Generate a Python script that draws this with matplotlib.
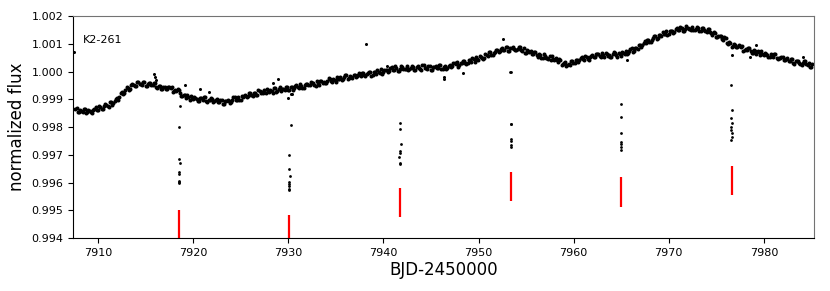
import numpy as np
import matplotlib
matplotlib.use("Agg")
import matplotlib.pyplot as plt

# K2-261 light curve, flux in ppm relative to 1
# two interleaved sets of samples, 0.25 d apart each
t0 = 7907.6
cadence = 0.25
flux_ppm = [
    -1340, -1470, -1390, -1445, -1340, -1470, -1405, -1500, -1340, -1370,
    -1250, -1340, -1245, -1190, -1275, -1105, -1150, -1000, -1030, -780,
    -820, -680, -580, -630, -450, -520, -365, -455, -500, -390,
    -510, -430, -495, -400, -550, -520, -645, -540, -620, -550,
    -605, -750, -665, -620, -780, -900, -860, -860, -1010, -950,
    -905, -1000, -1060, -970, -915, -1050, -1025, -970, -1095, -1030,
    -1095, -1020, -1170, -1075, -1035, -1125, -1040, -930, -1020, -1040,
    -895, -890, -930, -785, -850, -770, -860, -680, -760, -775,
    -780, -705, -660, -760, -605, -690, -550, -640, -680, -560,
    -670, -570, -605, -480, -595, -515, -600, -455, -500, -395,
    -410, -525, -405, -325, -405, -420, -325, -280, -390, -295,
    -215, -275, -305, -190, -115, -230, -185, -110, -210, -120,
    -155, -50, -175, -60, -15, -110, -35, 60, -40, -75,
    60, 60, 15, 150, 70, 140, 35, 200, 105, 80,
    65, 130, 160, 50, 190, 90, 225, 125, 75, 190,
    70, 160, 115, 230, 105, 170, 75, 215, 175, 290,
    285, 180, 305, 390, 315, 310, 415, 470, 360, 465,
    550, 500, 480, 610, 700, 605, 670, 765, 690, 805,
    780, 885, 750, 850, 875, 760, 815, 885, 750, 680,
    775, 720, 625, 710, 585, 620, 485, 620, 495, 450,
    415, 460, 470, 335, 430, 260, 345, 240, 230, 390,
    300, 420, 400, 535, 425, 505, 425, 575, 535, 645,
    630, 510, 610, 670, 570, 540, 620, 655, 535, 625,
    700, 640, 620, 750, 840, 750, 830, 940, 880, 1010,
    1010, 1145, 1050, 1200, 1275, 1205, 1305, 1420, 1335, 1315,
    1460, 1465, 1425, 1565, 1490, 1565, 1465, 1630, 1535, 1508,
    1488, 1545, 1570, 1450, 1570, 1445, 1545, 1410, 1325, 1395,
    1230, 1275, 1175, 1230, 1045, 1050, 900, 985, 880, 940,
    885, 735, 815, 855, 730, 680, 735, 745, 590, 645,
    685, 580, 510, 590, 630, 480, 490, 530, 400, 460,
    390, 455, 290, 370, 380, 255, 300, 365, 230, 165, 275,
]
flux_ppm_b = [
    -1315, -1445, -1422, -1358, -1510, -1388, -1472, -1385, -1295, -1385,
    -1280, -1342, -1182, -1228, -1090, -1208, -1075, -955, -925, -740,
    -760, -575, -660, -500, -495, -528, -360, -462, -390, -530,
    -435, -398, -502, -410, -585, -522, -618, -550, -620, -562,
    -572, -708, -692, -660, -885, -830, -955, -910, -870, -1008,
    -952, -1065, -945, -1022, -918, -1082, -1018, -988, -1072, -998,
    -1112, -1015, -1172, -1060, -1075, -1112, -935, -1015, -915, -1028,
    -902, -830, -898, -762, -890, -780, -830, -720, -752, -658,
    -632, -738, -695, -612, -748, -615, -695, -615, -545, -655,
    -575, -662, -518, -572, -445, -588, -502, -448, -502, -398,
    -482, -355, -485, -355, -368, -412, -248, -340, -252, -375,
    -255, -185, -258, -132, -268, -162, -218, -115, -155, -62,
    -38, -142, -98, -12, -148, -12, -88, 0, 78, -28,
    60, -22, 122, 65, 185, 32, 108, 152, 88, 182,
    88, 200, 50, 160, 130, 72, 225, 115, 188, 50,
    150, 202, 118, 232, 88, 182, 120, 225, 198, 302,
    338, 242, 298, 392, 268, 412, 348, 440, 522, 428,
    525, 455, 615, 575, 718, 592, 698, 772, 738, 858,
    778, 898, 750, 858, 822, 758, 900, 778, 830, 668,
    738, 752, 628, 702, 522, 588, 492, 558, 488, 552,
    548, 410, 418, 452, 245, 308, 192, 280, 385, 305,
    405, 335, 492, 445, 575, 435, 525, 585, 535, 642,
    555, 670, 520, 630, 600, 540, 692, 590, 670, 542,
    660, 735, 675, 815, 700, 835, 815, 955, 955, 1085,
    1142, 1068, 1145, 1262, 1155, 1315, 1262, 1368, 1460, 1368,
    1462, 1385, 1535, 1482, 1608, 1460, 1538, 1582, 1516, 1608,
    1506, 1612, 1455, 1550, 1498, 1410, 1528, 1382, 1415, 1232,
    1288, 1290, 1148, 1202, 998, 1035, 918, 962, 875, 928,
    915, 775, 785, 832, 660, 758, 645, 692, 728, 585,
    632, 510, 620, 530, 620, 440, 490, 510, 420, 490,
    368, 452, 280, 370, 322, 248, 382, 258, 312, 160,
]

# scattered points off the main band
extra_t = [7907.46, 7915.87, 7915.95, 7916.05, 7919.13, 7920.7, 7921.6,
           7928.4, 7928.9, 7930.0, 7930.3, 7930.4, 7938.2, 7940.4,
           7946.36, 7946.4, 7948.4, 7952.6, 7965.6, 7976.7, 7978.5,
           7979.2, 7984.1]
extra_ppm = [700, -83, -190, -300, -480, -625, -733,
             -400, -270, -950, -800, -820, 990, 205,
             -190, -265, -50, 1180, 420, 600, 530,
             964, 530]

# in-transit points
transit_t = [7918.48, 7918.52, 7918.55, 7918.47, 7918.51, 7918.49, 7918.53, 7918.50, 7918.58,
             7930.22, 7930.05, 7930.07, 7930.12, 7930.08, 7930.10, 7930.06, 7930.09, 7930.11,
             7941.72, 7941.78, 7941.80, 7941.70, 7941.74, 7941.68, 7941.71, 7941.73,
             7953.35, 7953.42, 7953.36, 7953.40, 7953.38, 7953.41, 7953.37, 7953.39,
             7965.03, 7964.93, 7965.00, 7964.97, 7964.99, 7965.01, 7964.98,
             7976.52, 7976.65, 7976.55, 7976.60, 7976.58, 7976.59, 7976.61, 7976.60, 7976.59]
transit_ppm = [-1986, -3162, -3285, -3632, -3693, -3935, -4007, -3990, -1238,
               -1924, -3007, -3523, -3754, -3971, -4054, -4126, -4235, -4271,
               -1863, -2079, -2610, -2852, -2946, -3068, -3285, -3343,
               -22, 0, -1888, -1900, -2440, -2490, -2646, -2707,
               -1166, -1646, -2202, -2527, -2610, -2707, -2826,
               -480, -1383, -1682, -1863, -2007, -2105, -2224, -2346, -2466]

# transit markers
mark_t = [7918.50, 7930.09, 7941.73, 7953.38, 7964.97, 7976.61]
mark_top = [0.99500, 0.99484, 0.99581, 0.99639, 0.99619, 0.99661]
mark_bottom = [0.99395, 0.99379, 0.99476, 0.99534, 0.99513, 0.99556]

time = t0 + cadence * np.arange(len(flux_ppm))
time_b = t0 + cadence / 2 + cadence * np.arange(len(flux_ppm_b))
t_band = np.concatenate([time, time_b])
f_band = 1 + np.concatenate([flux_ppm, flux_ppm_b]) * 1e-6

fig = plt.figure(figsize=(8.3, 2.91), dpi=100)
ax = fig.add_axes([0.088, 0.182, 0.893, 0.763])

ax.plot(t_band, f_band, 'ko', ms=2.9, mew=0)
ax.plot(extra_t, 1 + np.array(extra_ppm) * 1e-6, 'ko', ms=2.2, mew=0)
ax.plot(transit_t, 1 + np.array(transit_ppm) * 1e-6, 'ko', ms=2.0, mew=0)
ax.vlines(mark_t, mark_bottom, mark_top, color='red', lw=1.6)

ax.set_xlim(7907.35, 7985.3)
ax.set_ylim(0.994, 1.002)
yt = np.arange(0.994, 1.0021, 0.001)
ax.set_yticks(yt)
ax.set_yticklabels(['%.3f' % v for v in yt])
ax.tick_params(labelsize=8)
ax.spines['top'].set_color('0.45')
ax.spines['right'].set_color('0.45')
ax.text(0.013, 0.88, 'K2-261', transform=ax.transAxes, fontsize=8)
ax.set_xlabel('BJD-2450000', fontsize=12, labelpad=2)
ax.set_ylabel('normalized flux', fontsize=12)

fig.savefig('out.png', dpi=100)
